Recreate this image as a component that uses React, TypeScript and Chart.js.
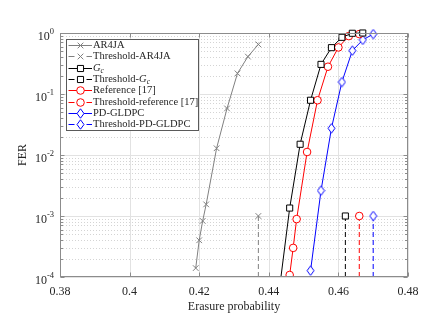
import React, { useEffect, useRef } from 'react';
import { Chart, registerables } from 'chart.js';

Chart.register(...registerables);

// ---------- data ----------
const AR4JA_X = [0.419, 0.42, 0.421, 0.422, 0.425, 0.428, 0.431, 0.434, 0.437];
const AR4JA_Y = [1.4e-4, 4.0e-4, 8.3e-4, 1.55e-3, 1.29e-2, 5.8e-2, 0.218, 0.41, 0.65];

const GC_X = [0.443, 0.446, 0.449, 0.452, 0.455, 0.458, 0.461, 0.464, 0.467];
const GC_Y = [6e-5, 1.35e-3, 1.5e-2, 7.9e-2, 0.306, 0.575, 0.85, 0.99, 1.0];

const REF_X = [0.446, 0.447, 0.448, 0.451, 0.454, 0.457, 0.46, 0.463, 0.466];
const REF_Y = [1.08e-4, 3.0e-4, 8.9e-4, 1.12e-2, 7.9e-2, 0.28, 0.58, 0.89, 0.96];

const PD_X = [0.452, 0.455, 0.458, 0.461, 0.464, 0.467, 0.47];
const PD_Y = [1.27e-4, 2.6e-3, 2.74e-2, 0.157, 0.513, 0.77, 0.96];

const THRESH_AR4JA = 0.437;
const THRESH_GC = 0.462;
const THRESH_REF = 0.466;
const THRESH_PD = 0.47;
const THRESH_TOP = 1e-3;
const THRESH_BOTTOM = 1e-4;

const XTICKS = [0.38, 0.4, 0.42, 0.44, 0.46, 0.48];
const XTICK_LABELS = ['0.38', '0.4', '0.42', '0.44', '0.46', '0.48'];
const YTICKS = [1e-4, 1e-3, 1e-2, 1e-1, 1];
const YTICK_EXP = ['-4', '-3', '-2', '-1', '0'];

const LABELS = [
  'AR4JA',
  'Threshold-AR4JA',
  'G_c',
  'Threshold-G_c',
  'Reference [17]',
  'Threshold-reference [17]',
  'PD-GLDPC',
  'Threshold-PD-GLDPC',
];

const X_TITLE = 'Erasure probability';
const Y_TITLE = 'FER';

const FONT = "'Liberation Serif', 'Times New Roman', serif";
const TEXT = '#262626';
const GRAY = '#808080';

function makeDiamond(color: string) {
  const c = document.createElement('canvas');
  c.width = 9;
  c.height = 11;
  const g = c.getContext('2d')!;
  g.beginPath();
  g.moveTo(4.5, 0.8);
  g.lineTo(8.0, 5.5);
  g.lineTo(4.5, 10.2);
  g.lineTo(1.0, 5.5);
  g.closePath();
  g.fillStyle = '#fff';
  g.fill();
  g.strokeStyle = color;
  g.lineWidth = 1;
  g.stroke();
  return c;
}

const CLIP = { left: 6, top: 6, right: 6, bottom: 0 };

function series(label: string, xs: number[], ys: number[], color: string, style: any, radius: number) {
  return {
    label,
    data: xs.map((x, i) => ({ x, y: ys[i] })),
    borderColor: color,
    backgroundColor: '#fff',
    pointBackgroundColor: '#fff',
    pointBorderColor: color,
    pointStyle: style,
    pointRadius: radius,
    pointBorderWidth: 1,
    borderWidth: 1,
    showLine: true,
    clip: CLIP,
  };
}

function threshold(label: string, x: number, color: string, style: any, radius: number) {
  return {
    label,
    data: [
      { x, y: THRESH_TOP },
      { x, y: THRESH_BOTTOM },
    ],
    borderColor: color,
    backgroundColor: '#fff',
    pointBackgroundColor: '#fff',
    pointBorderColor: color,
    pointStyle: style,
    pointRadius: [radius, 0],
    pointBorderWidth: 1,
    borderWidth: 1,
    borderDash: [5, 3],
    showLine: true,
    clip: CLIP,
  };
}

function drawRich(ctx: CanvasRenderingContext2D, text: string, x: number, y: number, size: number) {
  const m = text.match(/^(.*?)(\w)_(\w)(.*)$/);
  ctx.textAlign = 'left';
  ctx.textBaseline = 'middle';
  if (!m) {
    ctx.font = `${size}px ${FONT}`;
    ctx.fillText(text, x, y);
    return;
  }
  const [, pre, base, sub, post] = m;
  let cx = x;
  ctx.font = `${size}px ${FONT}`;
  ctx.fillText(pre, cx, y);
  cx += ctx.measureText(pre).width;
  ctx.font = `italic ${size}px ${FONT}`;
  ctx.fillText(base, cx, y);
  cx += ctx.measureText(base).width;
  ctx.font = `italic ${size * 0.72}px ${FONT}`;
  ctx.fillText(sub, cx, y + 2.5);
  cx += ctx.measureText(sub).width;
  ctx.font = `${size}px ${FONT}`;
  ctx.fillText(post, cx, y);
}

function drawMarker(ctx: CanvasRenderingContext2D, style: any, x: number, y: number, color: string) {
  ctx.save();
  ctx.strokeStyle = color;
  ctx.fillStyle = '#fff';
  ctx.lineWidth = 1;
  ctx.setLineDash([]);
  if (style === 'crossRot') {
    const d = 2.83;
    ctx.beginPath();
    ctx.moveTo(x - d, y - d);
    ctx.lineTo(x + d, y + d);
    ctx.moveTo(x - d, y + d);
    ctx.lineTo(x + d, y - d);
    ctx.stroke();
  } else if (style === 'rect') {
    const s = 3.05;
    ctx.beginPath();
    ctx.rect(x - s, y - s, 2 * s, 2 * s);
    ctx.fill();
    ctx.stroke();
  } else if (style === 'circle') {
    ctx.beginPath();
    ctx.arc(x, y, 3.8, 0, Math.PI * 2);
    ctx.fill();
    ctx.stroke();
  } else if (style instanceof HTMLCanvasElement) {
    ctx.drawImage(style, x - style.width / 2, y - style.height / 2);
  }
  ctx.restore();
}

export default function App() {
  const ref = useRef<HTMLCanvasElement | null>(null);

  useEffect(() => {
    if (!ref.current) return;
    const blueDiamond = makeDiamond('#0000ff');

    const styles = [
      { color: GRAY, style: 'crossRot', r: 4, dashed: false },
      { color: GRAY, style: 'crossRot', r: 4, dashed: true },
      { color: '#000000', style: 'rect', r: 4.3, dashed: false },
      { color: '#000000', style: 'rect', r: 4.3, dashed: true },
      { color: '#ff0000', style: 'circle', r: 3.8, dashed: false },
      { color: '#ff0000', style: 'circle', r: 3.8, dashed: true },
      { color: '#0000ff', style: blueDiamond, r: 4, dashed: false },
      { color: '#0000ff', style: blueDiamond, r: 4, dashed: true },
    ];

    const datasets: any[] = [
      series(LABELS[0], AR4JA_X, AR4JA_Y, GRAY, 'crossRot', 4),
      threshold(LABELS[1], THRESH_AR4JA, GRAY, 'crossRot', 4),
      series(LABELS[2], GC_X, GC_Y, '#000000', 'rect', 4.3),
      threshold(LABELS[3], THRESH_GC, '#000000', 'rect', 4.3),
      series(LABELS[4], REF_X, REF_Y, '#ff0000', 'circle', 3.8),
      threshold(LABELS[5], THRESH_REF, '#ff0000', 'circle', 3.8),
      series(LABELS[6], PD_X, PD_Y, '#0000ff', blueDiamond, 4),
      threshold(LABELS[7], THRESH_PD, '#0000ff', blueDiamond, 4),
    ];

    const gridPlugin = {
      id: 'matlabGrid',
      beforeDatasetsDraw(chart: any) {
        const { ctx, chartArea: a, scales } = chart;
        const xs = scales.x;
        const ys = scales.y;
        ctx.save();
        ctx.lineWidth = 1;
        // minor dotted
        ctx.strokeStyle = '#d4d4d4';
        ctx.setLineDash([1, 2]);
        for (let d = -4; d < 0; d++) {
          for (let k = 2; k <= 9; k++) {
            const py = Math.round(ys.getPixelForValue(k * Math.pow(10, d))) + 0.5;
            ctx.beginPath();
            ctx.moveTo(a.left, py);
            ctx.lineTo(a.right, py);
            ctx.stroke();
          }
        }
        ctx.setLineDash([]);
        ctx.strokeStyle = '#e2e2e2';
        YTICKS.forEach((v) => {
          const py = Math.round(ys.getPixelForValue(v)) + 0.5;
          ctx.beginPath();
          ctx.moveTo(a.left, py);
          ctx.lineTo(a.right, py);
          ctx.stroke();
        });
        XTICKS.forEach((v) => {
          const px = Math.round(xs.getPixelForValue(v)) + 0.5;
          ctx.beginPath();
          ctx.moveTo(px, a.top);
          ctx.lineTo(px, a.bottom);
          ctx.stroke();
        });
        ctx.restore();
      },
      afterDatasetsDraw(chart: any) {
        const { ctx, chartArea: a, scales } = chart;
        const xs = scales.x;
        const ys = scales.y;
        ctx.save();
        // box
        const L = Math.round(a.left) + 0.5;
        const R = Math.round(a.right) - 0.5;
        const T = Math.round(a.top) + 0.5;
        const B = Math.round(a.bottom) - 0.5;
        ctx.strokeStyle = '#8c8c8c';
        ctx.lineWidth = 1;
        ctx.setLineDash([]);
        ctx.strokeRect(L, T, R - L, B - T);
        // ticks
        ctx.beginPath();
        XTICKS.forEach((v) => {
          const px = Math.round(xs.getPixelForValue(v)) + 0.5;
          ctx.moveTo(px, B);
          ctx.lineTo(px, B - 4);
          ctx.moveTo(px, T);
          ctx.lineTo(px, T + 4);
        });
        for (let d = -4; d <= 0; d++) {
          for (let k = 1; k <= 9; k++) {
            if (d === 0 && k > 1) break;
            const py = Math.round(ys.getPixelForValue(k * Math.pow(10, d))) + 0.5;
            const len = k === 1 ? 4 : 2.5;
            ctx.moveTo(L, py);
            ctx.lineTo(L + len, py);
            ctx.moveTo(R, py);
            ctx.lineTo(R - len, py);
          }
        }
        ctx.stroke();

        // tick labels
        ctx.fillStyle = TEXT;
        ctx.font = `12px ${FONT}`;
        ctx.textAlign = 'center';
        ctx.textBaseline = 'middle';
        XTICKS.forEach((v, i) => {
          ctx.fillText(XTICK_LABELS[i], xs.getPixelForValue(v), a.bottom + 15);
        });
        YTICKS.forEach((v, i) => {
          const py = ys.getPixelForValue(v);
          const right = a.left - 6;
          ctx.font = `8.5px ${FONT}`;
          const ew = ctx.measureText(YTICK_EXP[i]).width;
          ctx.textAlign = 'left';
          ctx.fillText(YTICK_EXP[i], right - ew, py - 1);
          ctx.font = `12px ${FONT}`;
          ctx.textAlign = 'right';
          ctx.fillText('10', right - ew, py + 3.5);
        });

        // titles
        ctx.font = `12px ${FONT}`;
        ctx.textAlign = 'center';
        ctx.fillText(X_TITLE, (a.left + a.right) / 2, 307);
        ctx.save();
        ctx.translate(23, (a.top + a.bottom) / 2);
        ctx.rotate(-Math.PI / 2);
        ctx.fillText(Y_TITLE, 0, 0);
        ctx.restore();

        // legend
        const lx = 66.5;
        const ly = 39.5;
        const lw = 132;
        const lh = 91;
        ctx.fillStyle = '#ffffff';
        ctx.fillRect(lx, ly, lw, lh);
        ctx.strokeStyle = '#5a5a5a';
        ctx.strokeRect(lx, ly, lw, lh);
        LABELS.forEach((lab, i) => {
          const st = styles[i];
          const y = Math.round(45 + i * 11.35) + 0.5;
          ctx.strokeStyle = st.color;
          ctx.lineWidth = 1;
          ctx.setLineDash(st.dashed ? [6, 12] : []);
          ctx.beginPath();
          ctx.moveTo(68.5, y);
          ctx.lineTo(92, y);
          ctx.stroke();
          ctx.setLineDash([]);
          drawMarker(ctx, st.style, 80.5, y, st.color);
          ctx.fillStyle = TEXT;
          drawRich(ctx, lab, 93, y, 10.5);
        });
        ctx.restore();
      },
    };

    const chart = new Chart(ref.current, {
      type: 'scatter',
      data: { datasets },
      options: {
        animation: false,
        responsive: true,
        maintainAspectRatio: false,
        events: [],
        layout: { padding: { top: 33, right: 28, left: 0, bottom: 0 } },
        plugins: {
          legend: { display: false },
          tooltip: { enabled: false },
        },
        scales: {
          x: {
            type: 'linear',
            min: 0.38,
            max: 0.48,
            ticks: { display: false, stepSize: 0.02 },
            grid: { display: false, drawTicks: false },
            border: { display: false },
            afterFit: (s: any) => {
              s.height = 50;
            },
          },
          y: {
            type: 'logarithmic',
            min: 1e-4,
            max: 1,
            ticks: { display: false },
            grid: { display: false, drawTicks: false },
            border: { display: false },
            afterFit: (s: any) => {
              s.width = 60;
            },
          },
        },
      } as any,
      plugins: [gridPlugin],
    });
    return () => chart.destroy();
  }, []);

  return (
    <div style={{ position: 'fixed', left: 0, top: 0, width: 436, height: 327, background: '#fff' }}>
      <canvas ref={ref} />
    </div>
  );
}
